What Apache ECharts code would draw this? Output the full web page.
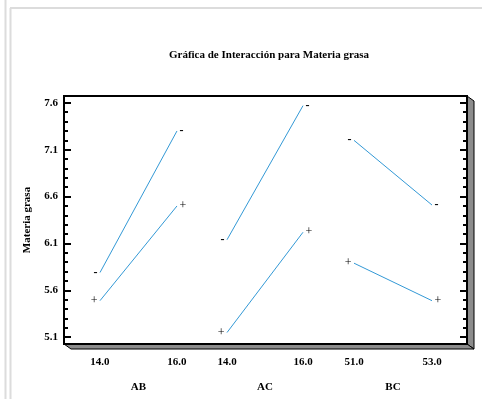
<!DOCTYPE html>
<html><head><meta charset="utf-8">
<script src="https://cdn.jsdelivr.net/npm/echarts@6/dist/echarts.min.js"></script>
<style>html,body{margin:0;padding:0;background:#fff}#c{width:482px;height:399px}</style>
</head><body><div id="c"></div>
<script>
// ---- data ----
const title = 'Gráfica de Interacción para Materia grasa';
const yName = 'Materia grasa';
const groups = ['AB', 'AC', 'BC'];
const levels = [[14.0, 16.0], [14.0, 16.0], [51.0, 53.0]];
const minusMeans = [[5.79, 7.30], [6.14, 7.57], [7.20, 6.51]];
const plusMeans = [[5.49, 6.50], [5.15, 6.22], [5.89, 5.49]];
const yTicks = [5.1, 5.6, 6.1, 6.6, 7.1, 7.6];
const markers = ['-', '+'];

// ---- layout ----
const Y_MIN = 5.028, Y_MAX = 7.673;
const TOP = 96, H = 248;
const gridBoxes = [{left: 64, width: 138}, {left: 202, width: 126.5}, {left: 328.5, width: 138.5}];
const xRanges = [[13.065, 16.65], [13.342, 16.671], [50.346, 53.897]];
const FONT = '"Liberation Serif", "Times New Roman", serif';
const LINE = '#3399d6';

const yMinor = [];
for (let v = Math.round(yTicks[0] * 10); v <= Math.round(yTicks[yTicks.length - 1] * 10); v++) yMinor.push(v / 10);

const grids = gridBoxes.map(b => ({left: b.left, width: b.width, top: TOP, height: H, containLabel: false}));

const baseY = (grid, pos) => ({
  type: 'value', gridIndex: grid, position: pos, min: Y_MIN, max: Y_MAX,
  axisLine: {show: false}, splitLine: {show: false}
});
const yAxes = [
  Object.assign(baseY(0, 'left'), {
    axisTick: {show: true, inside: true, length: 7, customValues: yTicks, lineStyle: {color: '#000', width: 2}},
    axisLabel: {show: true, customValues: yTicks, formatter: v => v.toFixed(1), margin: 6,
      color: '#000', fontFamily: FONT, fontWeight: 'bold', fontSize: 11},
    name: yName, nameLocation: 'middle', nameGap: 31, nameRotate: 90,
    nameTextStyle: {color: '#000', fontFamily: FONT, fontWeight: 'bold', fontSize: 11}
  }),
  Object.assign(baseY(0, 'left'), {
    axisTick: {show: true, inside: true, length: 4, customValues: yMinor, lineStyle: {color: '#000', width: 2}},
    axisLabel: {show: false}
  }),
  Object.assign(baseY(1, 'left'), {show: false}),
  Object.assign(baseY(2, 'right'), {
    axisTick: {show: true, inside: true, length: 7, customValues: yTicks, lineStyle: {color: '#000', width: 2}},
    axisLabel: {show: false}
  }),
  Object.assign(baseY(2, 'right'), {
    axisTick: {show: true, inside: true, length: 4, customValues: yMinor, lineStyle: {color: '#000', width: 2}},
    axisLabel: {show: false}
  })
];
const yIdx = [0, 2, 3];

const xAxes = [];
groups.forEach((g, i) => {
  const base = {type: 'value', gridIndex: i, position: 'bottom', min: xRanges[i][0], max: xRanges[i][1],
    axisLine: {show: false}, axisTick: {show: false}, splitLine: {show: false}};
  xAxes.push(Object.assign({}, base, {
    axisLabel: {customValues: levels[i], formatter: v => v.toFixed(1), margin: 13,
      color: '#000', fontFamily: FONT, fontWeight: 'bold', fontSize: 11}
  }));
  xAxes.push(Object.assign({}, base, {
    offset: 25,
    axisLabel: {customValues: [(levels[i][0] + levels[i][1]) / 2], formatter: () => g, margin: 13,
      color: '#000', fontFamily: FONT, fontWeight: 'bold', fontSize: 11}
  }));
});

const series = [];
groups.forEach((g, i) => {
  [minusMeans[i], plusMeans[i]].forEach((means, k) => {
    series.push({
      type: 'line', xAxisIndex: 2 * i, yAxisIndex: yIdx[i],
      symbol: 'circle', symbolSize: 1, itemStyle: {color: 'transparent'},
      lineStyle: {color: LINE, width: 1},
      label: {show: true, formatter: markers[k], color: '#000', fontFamily: FONT, fontSize: 12,
        fontWeight: k === 0 ? 'bold' : 'normal', distance: 2},
      data: levels[i].map((x, j) => ({value: [x, means[j]], label: {position: j === 0 ? 'left' : 'right'}})),
      silent: true
    });
  });
});

const L = 64, R = 467, T = TOP, B = TOP + H, D = 7, DV = 5;
const graphic = [
  {type: 'line', shape: {x1: 5.5, y1: 0, x2: 5.5, y2: 399}, style: {stroke: '#dcdcdc', lineWidth: 2}},
  {type: 'line', shape: {x1: 10.5, y1: 8, x2: 10.5, y2: 399}, style: {stroke: '#dcdcdc', lineWidth: 2}},
  {type: 'line', shape: {x1: 10, y1: 8, x2: 482, y2: 8}, style: {stroke: '#dcdcdc', lineWidth: 2}},
  {type: 'polygon', z: 10, shape: {points: [[R, T], [R + D, T + DV], [R + D, B + DV], [R, B]]},
    style: {fill: '#8c8c8c', stroke: '#000', lineWidth: 1}},
  {type: 'polygon', z: 10, shape: {points: [[L, B], [R, B], [R + D, B + DV], [L + D, B + DV]]},
    style: {fill: '#8c8c8c', stroke: '#000', lineWidth: 1}},
  {type: 'rect', z: 11, shape: {x: L, y: T, width: R - L, height: H}, style: {fill: 'none', stroke: '#000', lineWidth: 2}}
];

const chart = echarts.init(document.getElementById('c'), null, {renderer: 'canvas'});
chart.setOption({
  animation: false,
  backgroundColor: '#fff',
  title: {text: title, left: 264, textAlign: 'center', top: 45,
    textStyle: {color: '#000', fontFamily: FONT, fontWeight: 'bold', fontSize: 11}},
  grid: grids, xAxis: xAxes, yAxis: yAxes, series: series, graphic: graphic
});
</script></body></html>
